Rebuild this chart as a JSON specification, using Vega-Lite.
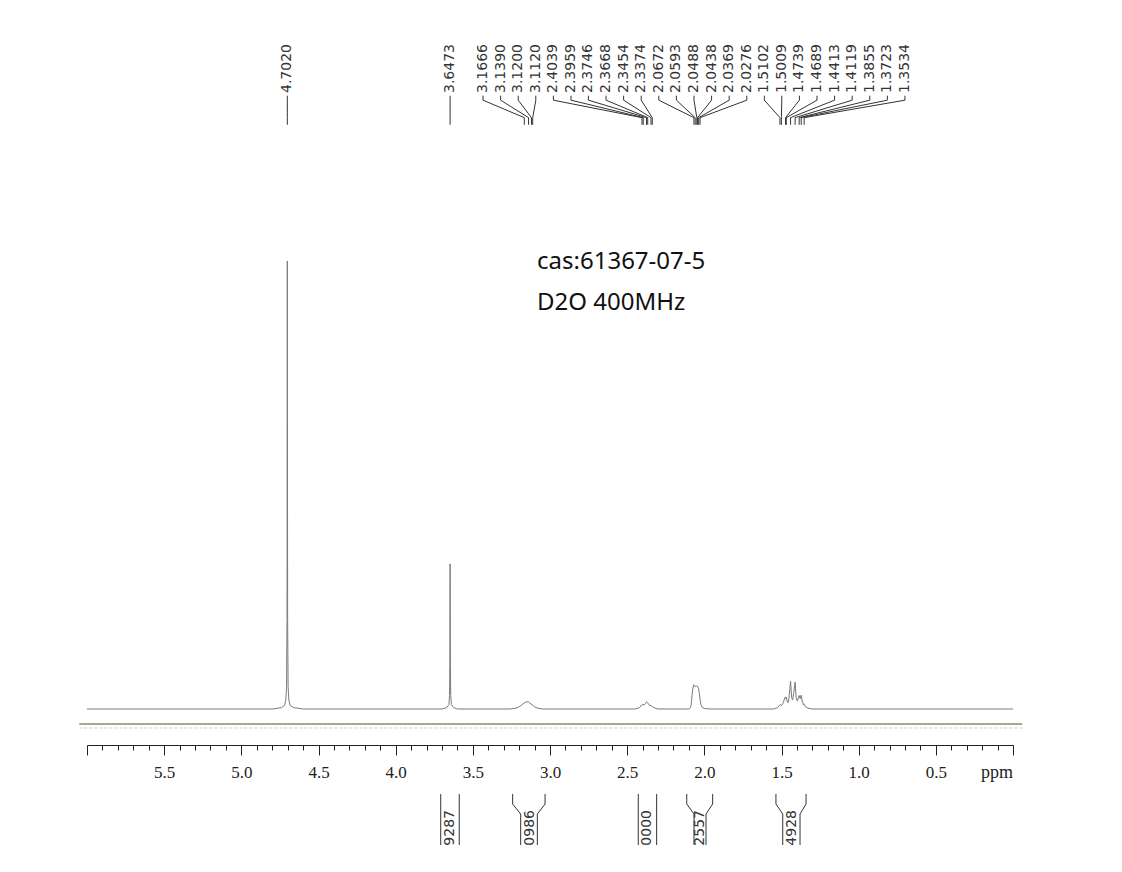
{
  "$schema": "https://vega.github.io/schema/vega-lite/v6.json",
  "width": 926,
  "height": 745,
  "autosize": "none",
  "padding": {"left": 87, "top": 0, "right": 109, "bottom": 127},
  "background": "white",
  "config": {"view": {"stroke": null}},
  "datasets": {
    "one": [{"k": 1}],
    "spec": [
      {"ppm": 6.0, "i": 0}, {"ppm": 4.8, "i": 0}, {"ppm": 4.74, "i": 0.3}, {"ppm": 4.72, "i": 0.8},
      {"ppm": 4.712, "i": 2}, {"ppm": 4.707, "i": 5}, {"ppm": 4.704, "i": 20}, {"ppm": 4.7025, "i": 70},
      {"ppm": 4.702, "i": 100}, {"ppm": 4.7015, "i": 70}, {"ppm": 4.700, "i": 20}, {"ppm": 4.697, "i": 5},
      {"ppm": 4.692, "i": 2}, {"ppm": 4.684, "i": 0.8}, {"ppm": 4.66, "i": 0.3}, {"ppm": 4.6, "i": 0},
      {"ppm": 3.7, "i": 0}, {"ppm": 3.67, "i": 0.3}, {"ppm": 3.655, "i": 1}, {"ppm": 3.651, "i": 3},
      {"ppm": 3.649, "i": 10}, {"ppm": 3.6478, "i": 25}, {"ppm": 3.6473, "i": 32.4}, {"ppm": 3.6468, "i": 25},
      {"ppm": 3.6455, "i": 10}, {"ppm": 3.643, "i": 3}, {"ppm": 3.639, "i": 1}, {"ppm": 3.625, "i": 0.3},
      {"ppm": 3.6, "i": 0},
      {"ppm": 3.26, "i": 0}, {"ppm": 3.22, "i": 0.2}, {"ppm": 3.2, "i": 0.5}, {"ppm": 3.18, "i": 1.0},
      {"ppm": 3.165, "i": 1.4}, {"ppm": 3.15, "i": 1.6}, {"ppm": 3.14, "i": 1.6}, {"ppm": 3.13, "i": 1.3},
      {"ppm": 3.115, "i": 0.9}, {"ppm": 3.1, "i": 0.5}, {"ppm": 3.08, "i": 0.2}, {"ppm": 3.05, "i": 0},
      {"ppm": 2.45, "i": 0}, {"ppm": 2.42, "i": 0.3}, {"ppm": 2.405, "i": 0.9}, {"ppm": 2.398, "i": 1.0},
      {"ppm": 2.39, "i": 0.9}, {"ppm": 2.38, "i": 1.3}, {"ppm": 2.374, "i": 1.6}, {"ppm": 2.368, "i": 1.4},
      {"ppm": 2.36, "i": 1.0}, {"ppm": 2.345, "i": 0.7}, {"ppm": 2.335, "i": 0.5}, {"ppm": 2.32, "i": 0.2},
      {"ppm": 2.3, "i": 0},
      {"ppm": 2.1, "i": 0}, {"ppm": 2.09, "i": 0.3}, {"ppm": 2.085, "i": 1}, {"ppm": 2.08, "i": 3},
      {"ppm": 2.075, "i": 4.5}, {"ppm": 2.068, "i": 5.4}, {"ppm": 2.062, "i": 5.1}, {"ppm": 2.056, "i": 5.0},
      {"ppm": 2.05, "i": 5.2}, {"ppm": 2.044, "i": 5.1}, {"ppm": 2.038, "i": 4.6}, {"ppm": 2.032, "i": 3.5},
      {"ppm": 2.027, "i": 2.0}, {"ppm": 2.022, "i": 1.0}, {"ppm": 2.015, "i": 0.4}, {"ppm": 2.0, "i": 0.1},
      {"ppm": 1.96, "i": 0},
      {"ppm": 1.55, "i": 0}, {"ppm": 1.525, "i": 0.3}, {"ppm": 1.515, "i": 0.7}, {"ppm": 1.509, "i": 1.0},
      {"ppm": 1.505, "i": 0.9}, {"ppm": 1.5, "i": 0.8}, {"ppm": 1.49, "i": 1.3}, {"ppm": 1.478, "i": 2.5},
      {"ppm": 1.4739, "i": 2.7}, {"ppm": 1.471, "i": 2.3}, {"ppm": 1.4689, "i": 2.6}, {"ppm": 1.462, "i": 1.5},
      {"ppm": 1.455, "i": 1.5}, {"ppm": 1.45, "i": 3}, {"ppm": 1.4413, "i": 6.2}, {"ppm": 1.434, "i": 2.5},
      {"ppm": 1.428, "i": 2.0}, {"ppm": 1.421, "i": 3.5}, {"ppm": 1.4119, "i": 6.0}, {"ppm": 1.405, "i": 2.5},
      {"ppm": 1.398, "i": 1.8}, {"ppm": 1.39, "i": 2.6}, {"ppm": 1.3855, "i": 3.0}, {"ppm": 1.379, "i": 2.3},
      {"ppm": 1.3723, "i": 3.1}, {"ppm": 1.366, "i": 1.8}, {"ppm": 1.358, "i": 1.0}, {"ppm": 1.3534, "i": 1.1},
      {"ppm": 1.345, "i": 0.5}, {"ppm": 1.33, "i": 0.2}, {"ppm": 1.3, "i": 0}, {"ppm": 0.0, "i": 0}
    ],
    "peaks": [
      {"ppm": 4.7020, "lab": 4.7020, "t": "4.7020"},
      {"ppm": 3.6473, "lab": 3.6473, "t": "3.6473"},
      {"ppm": 3.1666, "lab": 3.434, "t": "3.1666"},
      {"ppm": 3.1390, "lab": 3.320, "t": "3.1390"},
      {"ppm": 3.1200, "lab": 3.206, "t": "3.1200"},
      {"ppm": 3.1120, "lab": 3.092, "t": "3.1120"},
      {"ppm": 2.4039, "lab": 2.978, "t": "2.4039"},
      {"ppm": 2.3959, "lab": 2.864, "t": "2.3959"},
      {"ppm": 2.3746, "lab": 2.751, "t": "2.3746"},
      {"ppm": 2.3668, "lab": 2.637, "t": "2.3668"},
      {"ppm": 2.3454, "lab": 2.523, "t": "2.3454"},
      {"ppm": 2.3374, "lab": 2.409, "t": "2.3374"},
      {"ppm": 2.0672, "lab": 2.295, "t": "2.0672"},
      {"ppm": 2.0593, "lab": 2.181, "t": "2.0593"},
      {"ppm": 2.0488, "lab": 2.067, "t": "2.0488"},
      {"ppm": 2.0438, "lab": 1.953, "t": "2.0438"},
      {"ppm": 2.0369, "lab": 1.839, "t": "2.0369"},
      {"ppm": 2.0276, "lab": 1.725, "t": "2.0276"},
      {"ppm": 1.5102, "lab": 1.611, "t": "1.5102"},
      {"ppm": 1.5009, "lab": 1.498, "t": "1.5009"},
      {"ppm": 1.4739, "lab": 1.384, "t": "1.4739"},
      {"ppm": 1.4689, "lab": 1.270, "t": "1.4689"},
      {"ppm": 1.4413, "lab": 1.156, "t": "1.4413"},
      {"ppm": 1.4119, "lab": 1.042, "t": "1.4119"},
      {"ppm": 1.3855, "lab": 0.928, "t": "1.3855"},
      {"ppm": 1.3723, "lab": 0.814, "t": "1.3723"},
      {"ppm": 1.3534, "lab": 0.700, "t": "1.3534"}
    ],
    "isides": [
      {"g": "9287", "outer": 3.708, "inner": 3.708}, {"g": "9287", "outer": 3.588, "inner": 3.588},
      {"g": "0986", "outer": 3.242, "inner": 3.190}, {"g": "0986", "outer": 3.032, "inner": 3.082},
      {"g": "0000", "outer": 2.428, "inner": 2.428}, {"g": "0000", "outer": 2.309, "inner": 2.309},
      {"g": "2557", "outer": 2.114, "inner": 2.067}, {"g": "2557", "outer": 1.946, "inner": 1.989},
      {"g": "4928", "outer": 1.536, "inner": 1.492}, {"g": "4928", "outer": 1.341, "inner": 1.380}
    ],
    "ilabels": [
      {"t": "9287", "mid": 3.648}, {"t": "0986", "mid": 3.132}, {"t": "0000", "mid": 2.370},
      {"t": "2557", "mid": 2.028}, {"t": "4928", "mid": 1.435}
    ]
  },
  "resolve": {"axis": {"x": "independent"}},
  "layer": [
    {
      "data": {"name": "one"},
      "mark": {"type": "rule", "color": "#aca596", "strokeWidth": 2},
      "encoding": {
        "x": {"datum": 6.05, "type": "quantitative", "scale": {"domain": [6, 0], "nice": false, "zero": false}, "axis": null},
        "x2": {"datum": -0.06},
        "y": {"datum": -3.35, "type": "quantitative", "scale": {"domain": [-8.036, 158.26], "nice": false, "zero": false}, "axis": null}
      }
    },
    {
      "data": {"name": "one"},
      "mark": {"type": "rule", "color": "#c5d6c8", "strokeWidth": 1, "strokeDash": [3, 2]},
      "encoding": {
        "x": {"datum": 6.05, "type": "quantitative", "axis": null},
        "x2": {"datum": -0.06},
        "y": {"datum": -4.24, "type": "quantitative", "axis": null}
      }
    },
    {
      "data": {"name": "spec"},
      "mark": {"type": "line", "color": "#7a7a7a", "strokeWidth": 1},
      "encoding": {
        "x": {"field": "ppm", "type": "quantitative", "scale": {"domain": [6, 0], "nice": false, "zero": false},
          "axis": {"orient": "bottom", "values": [6, 5.5, 5, 4.5, 4, 3.5, 3, 2.5, 2, 1.5, 1, 0.5, 0],
            "labelExpr": "datum.value > 5.9 || datum.value < 0.1 ? '' : format(datum.value, '.1f')",
            "tickSize": 10, "tickColor": "#222", "domainColor": "#222", "domainWidth": 1, "tickWidth": 1,
            "labelFont": "Liberation Serif", "labelFontSize": 17, "labelColor": "#222", "labelPadding": 9,
            "title": null, "grid": false, "labelFlush": false, "labelOverlap": false}},
        "y": {"field": "i", "type": "quantitative", "scale": {"domain": [-8.036, 158.26], "nice": false, "zero": false}, "axis": null}
      }
    },
    {
      "data": {"name": "peaks"},
      "mark": {"type": "text", "angle": 270, "align": "left", "baseline": "middle", "font": "DejaVu Sans", "fontSize": 14, "color": "#333"},
      "encoding": {
        "x": {"field": "lab", "type": "quantitative",
          "axis": {"orient": "bottom", "values": [5.9,5.8,5.7,5.6,5.4,5.3,5.2,5.1,4.9,4.8,4.7,4.6,4.4,4.3,4.2,4.1,3.9,3.8,3.7,3.6,3.4,3.3,3.2,3.1,2.9,2.8,2.7,2.6,2.4,2.3,2.2,2.1,1.9,1.8,1.7,1.6,1.4,1.3,1.2,1.1,0.9,0.8,0.7,0.6,0.4,0.3,0.2,0.1],
            "labels": false, "domain": false, "tickSize": 5, "tickColor": "#222", "tickWidth": 1, "title": null, "grid": false}},
        "y": {"datum": 137.5, "type": "quantitative", "axis": null},
        "text": {"field": "t"}
      }
    },
    {
      "data": {"name": "peaks"},
      "mark": {"type": "rule", "color": "#333", "strokeWidth": 1},
      "encoding": {
        "x": {"field": "lab", "type": "quantitative", "axis": null},
        "y": {"datum": 136.9, "type": "quantitative", "axis": null},
        "y2": {"datum": 135.9}
      }
    },
    {
      "data": {"name": "peaks"},
      "mark": {"type": "rule", "color": "#333", "strokeWidth": 1},
      "encoding": {
        "x": {"field": "lab", "type": "quantitative", "axis": null},
        "x2": {"field": "ppm"},
        "y": {"datum": 135.9, "type": "quantitative", "axis": null},
        "y2": {"datum": 132.0}
      }
    },
    {
      "data": {"name": "peaks"},
      "mark": {"type": "rule", "color": "#333", "strokeWidth": 1},
      "encoding": {
        "x": {"field": "ppm", "type": "quantitative", "axis": null},
        "y": {"datum": 132.0, "type": "quantitative", "axis": null},
        "y2": {"datum": 130.4}
      }
    },
    {
      "data": {"name": "isides"},
      "mark": {"type": "rule", "color": "#333", "strokeWidth": 1},
      "encoding": {
        "x": {"field": "outer", "type": "quantitative", "axis": null},
        "y": {"datum": -18.97, "type": "quantitative", "axis": null},
        "y2": {"datum": -21.21}
      }
    },
    {
      "data": {"name": "isides"},
      "mark": {"type": "rule", "color": "#333", "strokeWidth": 1},
      "encoding": {
        "x": {"field": "outer", "type": "quantitative", "axis": null},
        "x2": {"field": "inner"},
        "y": {"datum": -21.21, "type": "quantitative", "axis": null},
        "y2": {"datum": -23.44}
      }
    },
    {
      "data": {"name": "isides"},
      "mark": {"type": "rule", "color": "#333", "strokeWidth": 1},
      "encoding": {
        "x": {"field": "inner", "type": "quantitative", "axis": null},
        "y": {"datum": -23.44, "type": "quantitative", "axis": null},
        "y2": {"datum": -30.36}
      }
    },
    {
      "data": {"name": "ilabels"},
      "mark": {"type": "text", "angle": 270, "align": "left", "baseline": "middle", "font": "DejaVu Sans", "fontSize": 14, "color": "#333"},
      "encoding": {
        "x": {"field": "mid", "type": "quantitative", "axis": null},
        "y": {"datum": -30.5, "type": "quantitative", "axis": null},
        "text": {"field": "t"}
      }
    },
    {
      "data": {"name": "one"},
      "mark": {"type": "text", "align": "left", "baseline": "middle", "font": "Noto Sans", "fontSize": 24, "color": "#111"},
      "encoding": {
        "x": {"datum": 3.084, "type": "quantitative", "axis": null},
        "y": {"datum": 99.78, "type": "quantitative", "axis": null},
        "text": {"value": "cas:61367-07-5"}
      }
    },
    {
      "data": {"name": "one"},
      "mark": {"type": "text", "align": "left", "baseline": "middle", "font": "Noto Sans", "fontSize": 24, "color": "#111"},
      "encoding": {
        "x": {"datum": 3.084, "type": "quantitative", "axis": null},
        "y": {"datum": 90.63, "type": "quantitative", "axis": null},
        "text": {"value": "D2O 400MHz"}
      }
    },
    {
      "data": {"name": "one"},
      "mark": {"type": "text", "align": "right", "baseline": "alphabetic", "font": "Liberation Serif", "fontSize": 18, "color": "#222"},
      "encoding": {
        "x": {"datum": 0.0, "type": "quantitative", "axis": null},
        "y": {"datum": -15.4, "type": "quantitative", "axis": null},
        "text": {"value": "ppm"}
      }
    }
  ]
}
